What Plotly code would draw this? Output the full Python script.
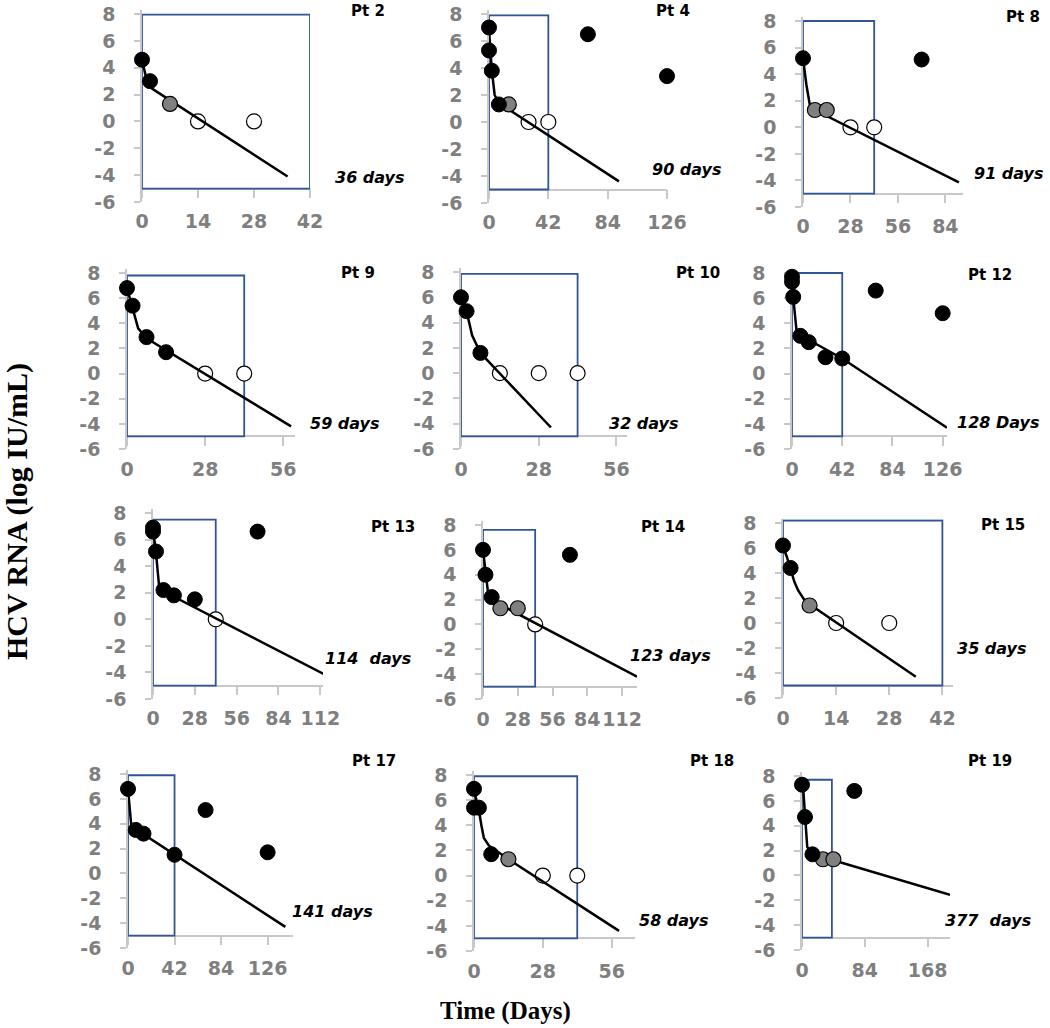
import plotly.graph_objects as go

W, H = 1050, 1028

# one entry per panel, in reading order
patients = ["Pt 2", "Pt 4", "Pt 8", "Pt 9", "Pt 10", "Pt 12",
            "Pt 13", "Pt 14", "Pt 15", "Pt 17", "Pt 18", "Pt 19"]
cure_labels = ["36 days", "90 days", "91 days", "59 days", "32 days", "128 Days",
               "114  days", "123 days", "35 days", "141 days", "58 days", "377  days"]

y_ticks = [-6, -4, -2, 0, 2, 4, 6, 8]
y_tick_text = ["-6", "-4", "-2", "0", "2", "4", "6", "8"]

# treatment window (days, top of box in log IU/mL)
window_end = [42, 42, 42, 42, 42, 42, 42, 42, 42, 42, 42, 40]
window_top = [7.95, 7.9, 8.0, 7.8, 7.85, 8.0, 7.5, 7.6, 8.2, 7.9, 7.9, 7.7]
window_floor = -5

# measured HCV RNA, black = quantified
black_days = [[0, 2], [0, 0, 2, 7, 70, 126], [0, 70], [0, 2, 7, 14], [0, 2, 7],
              [0, 0, 1, 7, 14, 28, 42, 70, 126], [0, 0, 2, 7, 14, 28, 70],
              [0, 2, 7, 70], [0, 2], [0, 7, 14, 42, 70, 126], [0, 0, 2, 7],
              [0, 4, 14, 70]]
black_log = [[4.6, 3.0], [7.0, 5.3, 3.8, 1.3, 6.5, 3.4], [5.2, 5.1],
             [6.8, 5.4, 2.9, 1.7], [6.0, 4.9, 1.6],
             [7.7, 7.3, 6.1, 3.0, 2.5, 1.3, 1.2, 6.6, 4.8],
             [6.9, 6.6, 5.1, 2.2, 1.8, 1.5, 6.6], [6.0, 4.0, 2.2, 5.6], [6.2, 4.4],
             [6.8, 3.5, 3.2, 1.5, 5.1, 1.7], [6.9, 5.4, 5.4, 1.7], [7.3, 4.7, 1.7, 6.8]]

# gray = detected but not quantified
gray_days = [[7], [14], [7, 14], [], [], [], [], [14, 28], [7], [], [14], [28, 42]]
gray_log = [[1.3], [1.3], [1.3, 1.3], [], [], [], [], [1.3, 1.3], [1.4], [], [1.3], [1.3, 1.3]]

# open = not detected
open_days = [[14, 28], [28, 42], [28, 42], [28, 42], [14, 28, 42], [], [42], [42],
             [14, 28], [], [28, 42], []]
open_log = [[0, 0], [0, 0], [0, 0], [0, 0], [0, 0, 0], [], [0], [0], [0, 0], [], [0, 0], []]

# model fit curves
fit_days = [[0, 1, 2.5, 36.4],
            [0, 1, 2, 4, 7, 92],
            [0, 2, 4, 7, 92],
            [0, 2, 4, 7, 58.8],
            [0, 2, 4, 7, 32.4],
            [0, 1, 4, 42, 129.6],
            [0, 2, 4, 7, 114.4],
            [0, 2, 4, 8, 124],
            [0, 1, 2, 3, 4, 5.5, 7, 35],
            [0, 1, 2, 3, 142],
            [0, 2, 3, 4, 6, 14, 59],
            [1, 4, 7, 15, 43, 198]]
fit_log = [[4.55, 3.3, 2.45, -4.1],
           [6.8, 5.2, 3.8, 2.0, 1.4, -4.4],
           [5.2, 3.2, 1.7, 1.3, -4.15],
           [6.8, 5.3, 3.6, 2.8, -4.2],
           [6.0, 4.9, 3.0, 1.6, -4.3],
           [7.4, 6.1, 3.2, 1.2, -4.3],
           [6.8, 5.0, 2.6, 2.1, -4.13],
           [6.0, 4.1, 2.6, 1.9, -4.2],
           [6.1, 5.3, 4.3, 3.3, 2.6, 1.9, 1.5, -4.3],
           [6.8, 5.6, 4.3, 3.8, -4.3],
           [6.8, 5.2, 4.0, 3.0, 2.4, 1.3, -4.4],
           [7.5, 4.8, 2.3, 1.6, 1.2, -1.56]]

# layout: pixel boxes (x of day 0, x of axis end, y of 8, y of -6)
boxes = [(142, 310, 14, 202), (489, 667, 14, 203), (803, 963, 21, 207),
         (127, 295, 273, 449), (461, 627, 272, 449), (792, 947, 273, 449),
         (153, 323, 513, 699), (483, 637, 525, 699), (783, 953, 523, 698),
         (128, 293, 774, 948), (474, 635, 775, 951), (802, 950, 776, 950)]
x_max = [42, 126, 94.4, 60.2, 59.8, 129.6, 113.8, 124, 44.8, 148.9, 65.5, 198]
x_step = [14, 42, 28, 28, 28, 42, 28, 28, 14, 42, 28, 84]
pt_pos = [(368, 11), (673, 11), (1023, 17), (358, 273), (698, 273), (990, 275),
          (393, 527), (663, 527), (1003, 525), (374, 761), (712, 761), (990, 761)]
days_pos = [(333, 177), (650, 170), (972, 173), (308, 423), (607, 423), (955, 422),
            (323, 658), (628, 655), (955, 648), (290, 911), (637, 920), (943, 920)]


def fx(px):
    return px / W


def fy(py):
    return 1 - py / H


y_lo, y_hi = -6, 8.3  # a little headroom so the boxes are not clipped at 8
axis_col = "#c8c8c8"
tick_font = dict(family="DejaVu Sans", size=19, color="#7f7f7f", weight="bold")

fig = go.Figure()
layout = {}
annotations = []

for i in range(len(patients)):
    k = i + 1
    xa = "x" if k == 1 else f"x{k}"
    ya = "y" if k == 1 else f"y{k}"
    x0, x1, yt, yb = boxes[i]
    unit = (yb - yt) / 14.0
    top_px = yt - (y_hi - 8) * unit

    # treatment window box
    fig.add_trace(go.Scatter(
        x=[0, window_end[i], window_end[i], 0, 0],
        y=[window_floor, window_floor, window_top[i], window_top[i], window_floor],
        mode="lines", line=dict(color="#2f5597", width=1.8),
        xaxis=xa, yaxis=ya, showlegend=False, hoverinfo="skip"))
    fig.add_trace(go.Scatter(
        x=open_days[i], y=open_log[i], mode="markers",
        marker=dict(size=15, color="white", line=dict(color="black", width=1.2)),
        xaxis=xa, yaxis=ya, showlegend=False, cliponaxis=False))
    fig.add_trace(go.Scatter(
        x=fit_days[i], y=fit_log[i], mode="lines",
        line=dict(color="black", width=2.5),
        xaxis=xa, yaxis=ya, showlegend=False))
    fig.add_trace(go.Scatter(
        x=gray_days[i], y=gray_log[i], mode="markers",
        marker=dict(size=15, color="#808080", line=dict(color="black", width=1.2)),
        xaxis=xa, yaxis=ya, showlegend=False, cliponaxis=False))
    fig.add_trace(go.Scatter(
        x=black_days[i], y=black_log[i], mode="markers",
        marker=dict(size=15, color="black", line=dict(color="black", width=1)),
        xaxis=xa, yaxis=ya, showlegend=False, cliponaxis=False))

    # x axis crosses at -5
    y_cross = yb - unit
    layout[f"xaxis{k}"] = dict(
        domain=[fx(x0), fx(x1)], range=[0, x_max[i]], anchor="free",
        position=fy(y_cross), tick0=0, dtick=x_step[i], tickangle=0,
        ticks="outside", ticklen=9, tickcolor=axis_col, tickwidth=1.5,
        showline=True, linecolor=axis_col, linewidth=1.5, layer="below traces",
        showgrid=False, zeroline=False, tickfont=tick_font, ticklabelstandoff=7)
    layout[f"yaxis{k}"] = dict(
        domain=[fy(yb), fy(top_px)], range=[y_lo, y_hi], anchor=xa,
        tickvals=y_ticks, ticktext=y_tick_text,
        ticks="outside", ticklen=6, tickcolor=axis_col, tickwidth=1.5,
        showline=True, linecolor=axis_col, linewidth=1.5, layer="below traces",
        showgrid=False, zeroline=False, tickfont=tick_font, ticklabelstandoff=15)

    px, py = pt_pos[i]
    annotations.append(dict(
        text=patients[i], x=fx(px), y=fy(py), xref="paper", yref="paper",
        showarrow=False, xanchor="center", yanchor="middle",
        font=dict(family="DejaVu Sans", size=15, color="black", weight="bold")))
    dx, dy = days_pos[i]
    annotations.append(dict(
        text=cure_labels[i].replace("  ", "&nbsp; "), x=fx(dx), y=fy(dy),
        xref="paper", yref="paper",
        showarrow=False, xanchor="left", yanchor="middle",
        font=dict(family="DejaVu Sans", size=16, color="black",
                  weight="bold", style="italic")))

annotations.append(dict(
    text="HCV RNA (log IU/mL)", x=fx(17), y=fy(512), xref="paper", yref="paper",
    showarrow=False, textangle=-90, xanchor="center", yanchor="middle",
    font=dict(family="Liberation Serif", size=30, color="black", weight="bold")))
annotations.append(dict(
    text="Time (Days)", x=fx(505), y=fy(1011), xref="paper", yref="paper",
    showarrow=False, xanchor="center", yanchor="middle",
    font=dict(family="Liberation Serif", size=25, color="black", weight="bold")))

fig.update_layout(
    width=W, height=H, margin=dict(l=0, r=0, t=0, b=0, autoexpand=False),
    plot_bgcolor="white", paper_bgcolor="white",
    annotations=annotations, showlegend=False, **layout)

# drop the page's default body margin so the figure sits at the window corner
fig.write_html("out.html", config={"displayModeBar": False},
               post_script="document.body.style.margin='0';")
